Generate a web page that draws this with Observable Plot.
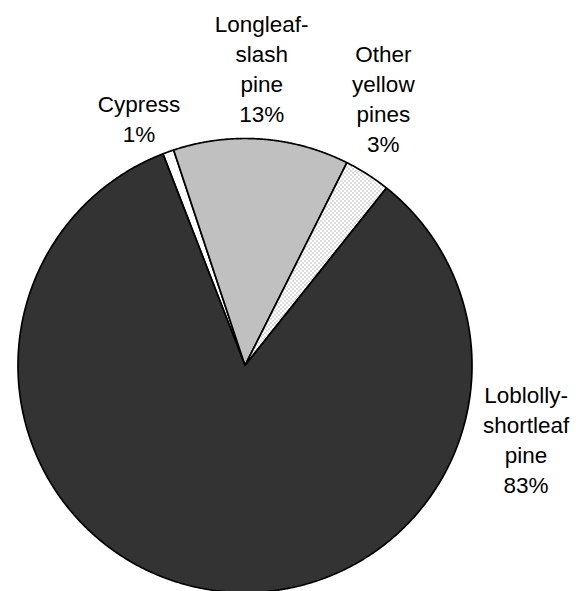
<!DOCTYPE html>
<html><head><meta charset="utf-8">
<script src="https://cdn.jsdelivr.net/npm/d3@7"></script>
<script src="https://cdn.jsdelivr.net/npm/@observablehq/plot@0.6"></script>
<style>body{margin:0;background:#fff} svg{display:block}</style>
</head><body><div id="chart"></div>
<script>
// ---- data ----
const species = ["Cypress", "Longleaf-slash pine", "Other yellow pines", "Loblolly-shortleaf pine"];
const labelLines = ["Cypress", "Longleaf-\nslash\npine", "Other\nyellow\npines", "Loblolly-\nshortleaf\npine"];
const shares = [0.8, 12.5, 3.3, 83.4];           // percent of volume
const shareLabels = ["1%", "13%", "3%", "83%"];

// ---- layout (not data) ----
const startAngle = -21.2;                          // degrees clockwise from 12 o'clock
const sliceFills = ["#ffffff", "#c0c0c0", "url(#stipple)", "#333333"];
const labelPolar = [[-23.1, 1.19], [3.2, 1.317], [27.3, 1.329], [104.5, 1.279]]; // [angle deg, radius multiples]

// build slice outlines from the shares
const total = d3.sum(shares);
const slicePts = [];
let a = startAngle;
species.forEach((name, i) => {
  const span = shares[i] / total * 360;
  const a0 = a, a1 = a + span;
  const n = Math.max(2, Math.ceil(span / 0.25));
  slicePts.push({name, x: 0, y: 0});
  for (let k = 0; k <= n; k++) {
    const t = (a0 + (a1 - a0) * k / n) * Math.PI / 180;
    slicePts.push({name, x: Math.sin(t), y: Math.cos(t)});
  }
  slicePts.push({name, x: 0, y: 0});
  a = a1;
});

const labels = species.map((name, i) => {
  const t = labelPolar[i][0] * Math.PI / 180, r = labelPolar[i][1];
  return {name, text: labelLines[i] + "\n" + shareLabels[i], x: r * Math.sin(t), y: r * Math.cos(t)};
});

const W = 581, H = 591, cx = 244.5, cy = 365, R = 227;
const plot = Plot.plot({
  width: W, height: H, margin: 0,
  x: {domain: [-cx / R, (W - cx) / R], axis: null},
  y: {domain: [-(H - cy) / R, cy / R], axis: null},
  color: {domain: species, range: sliceFills},
  style: {background: "#fff", overflow: "visible"},
  marks: [
    Plot.line(slicePts, {x: "x", y: "y", z: "name", fill: "name", stroke: "#000", strokeWidth: 1.7, strokeLinejoin: "miter", curve: "linear"}),
    Plot.text(labels, {x: "x", y: "y", text: "text", fontSize: 22.5, lineHeight: 1.333, textAnchor: "middle", fill: "#000",
      fontFamily: "'Liberation Sans', Arial, Helvetica, sans-serif"})
  ]
});

const ns = "http://www.w3.org/2000/svg";
const defs = document.createElementNS(ns, "defs");
const pat = document.createElementNS(ns, "pattern");
pat.setAttribute("id", "stipple");
pat.setAttribute("width", 4); pat.setAttribute("height", 4);
pat.setAttribute("patternUnits", "userSpaceOnUse");
[[0, 0, 4, 4, "#fff"], [0, 0, 1, 1, "#777"], [2, 2, 1, 1, "#777"]].forEach(([x, y, w, h, f]) => {
  const r = document.createElementNS(ns, "rect");
  r.setAttribute("x", x); r.setAttribute("y", y); r.setAttribute("width", w); r.setAttribute("height", h); r.setAttribute("fill", f);
  pat.appendChild(r);
});
defs.appendChild(pat);
plot.insertBefore(defs, plot.firstChild);
document.getElementById("chart").appendChild(plot);
</script>
</body></html>
